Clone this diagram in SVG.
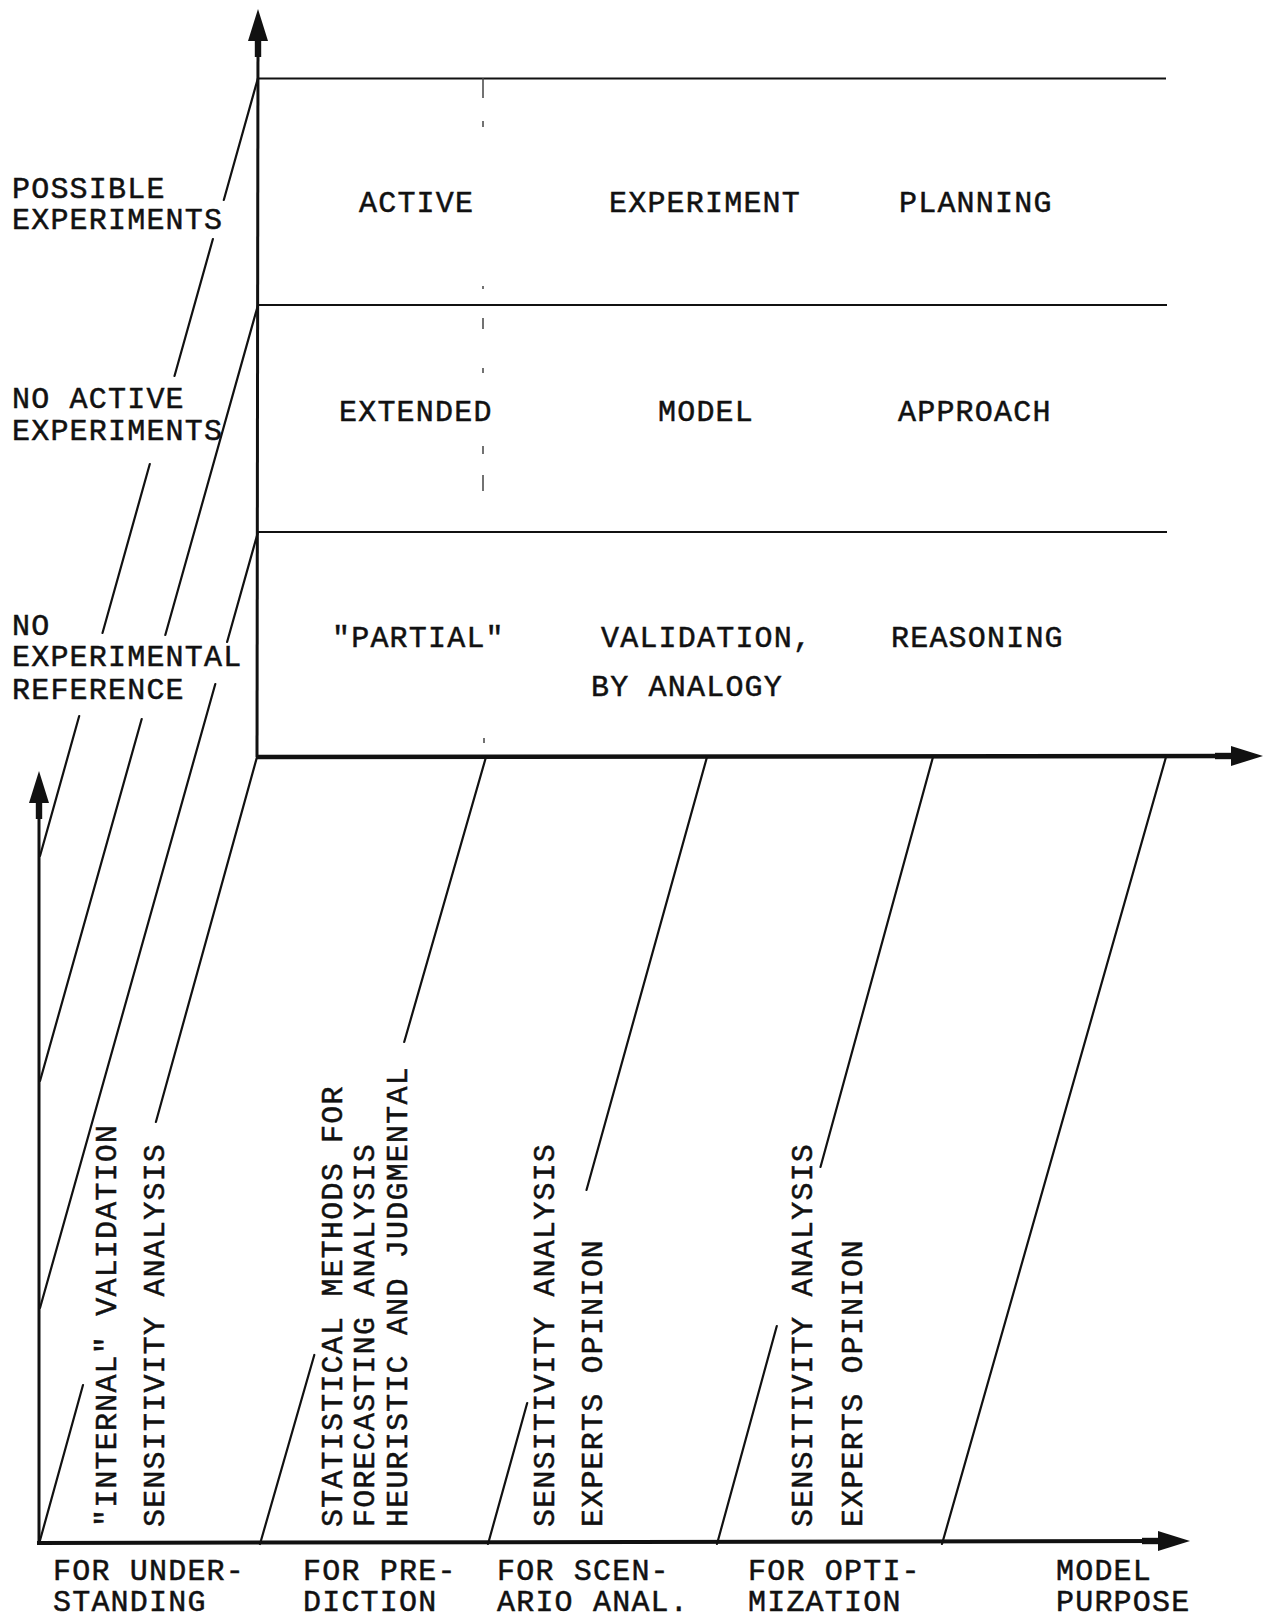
<svg xmlns="http://www.w3.org/2000/svg" width="1265" height="1620" viewBox="0 0 1265 1620">
<defs>
<style>
.t{font-family:"Liberation Mono","Courier New",monospace;font-size:30px;letter-spacing:1.2px;fill:#111;stroke:#111;stroke-width:0.5px;}
.ln{stroke:#111;stroke-width:2.2;fill:none;stroke-linecap:round;}
.ax{stroke:#111;fill:none;}
.thin{stroke:#111;stroke-width:2;fill:none;}
.dash{stroke:#444;stroke-width:1.5;fill:none;}
</style>
<g id="ah"><path d="M0,0 L-32,-10 L-32,10 Z"/><rect x="-48" y="-3.2" width="18" height="6.4"/></g>
</defs>
<rect width="1265" height="1620" fill="#fff"/>

<g id="axes" fill="#111">
<line class="ax" stroke-width="3" x1="257" y1="757" x2="258" y2="40"/>
<use href="#ah" transform="translate(258,9) rotate(-90)"/>
<line class="ax" stroke-width="3" x1="39" y1="1544" x2="39" y2="800"/>
<use href="#ah" transform="translate(39,771) rotate(-90)"/>
<line class="ax" stroke-width="4.5" x1="256" y1="757" x2="1235" y2="756"/>
<use href="#ah" transform="translate(1263,756)"/>
<line class="ax" stroke-width="4" x1="37" y1="1543" x2="1165" y2="1541"/>
<use href="#ah" transform="translate(1190,1541)"/>
</g>

<g id="grid">
<line class="thin" x1="258" y1="78.5" x2="1166" y2="78.5"/>
<line class="thin" x1="258" y1="305" x2="1167" y2="305"/>
<line class="thin" x1="258" y1="532" x2="1167" y2="532"/>
<path class="dash" d="M483,78 L483,98 M483,121 L483,127 M483,286 L483,289 M483,318 L483,329 M483,368 L483,373 M483,446 L483,454 M483,475 L483,491 M484,738 L484,743"/>
</g>

<g id="connectors" class="ln">
<path id="lineA" d="M40,856 L79.2,716 M102.5,633 L149.8,464 M174.5,376 L212.9,239 M223.8,200 L258,78"/>
<path id="lineB" d="M40,1081 L141.7,719 M165.3,635 L258,305"/>
<path id="lineC" d="M40,1308 L215.3,684 M227.1,642 L258,532"/>
<path id="lineD" d="M39,1544 L83,1385 M155.9,1122 L257,757"/>
<path id="lineL1" d="M260,1544 L314.3,1355 M404.2,1042 L486,757"/>
<path id="lineL2" d="M488,1544 L527.2,1403 M586.5,1190 L707,757"/>
<path id="lineL3" d="M717,1544 L776.8,1326 M820.5,1167 L933,757"/>
<path id="lineL4" d="M942,1544 L1166,757"/>
</g>

<g id="row-labels" class="t">
<g id="lbl-possible"><text x="12" y="198">POSSIBLE</text><text x="12" y="229">EXPERIMENTS</text></g>
<g id="lbl-noactive"><text x="12" y="408">NO ACTIVE</text><text x="12" y="440">EXPERIMENTS</text></g>
<g id="lbl-noexp"><text x="12" y="635">NO</text><text x="12" y="666">EXPERIMENTAL</text><text x="12" y="699">REFERENCE</text></g>
</g>

<g id="cells" class="t">
<g id="cell-row1"><text x="359" y="212">ACTIVE</text><text x="609" y="212">EXPERIMENT</text><text x="899" y="212">PLANNING</text></g>
<g id="cell-row2"><text x="339" y="421">EXTENDED</text><text x="658" y="421">MODEL</text><text x="898" y="421">APPROACH</text></g>
<g id="cell-row3"><text x="332" y="647">"PARTIAL"</text><text x="601" y="647">VALIDATION,</text><text x="891" y="647">REASONING</text><text x="591" y="696">BY ANALOGY</text></g>
</g>

<g id="methods" class="t">
<g id="m-understanding">
<text transform="translate(116,1527) rotate(-90)">"INTERNAL" VALIDATION</text>
<text transform="translate(164,1527) rotate(-90)">SENSITIVITY ANALYSIS</text>
</g>
<g id="m-prediction">
<text transform="translate(342,1527) rotate(-90)">STATISTICAL METHODS FOR</text>
<text transform="translate(374,1527) rotate(-90)">FORECASTING ANALYSIS</text>
<text transform="translate(407,1527) rotate(-90)">HEURISTIC AND JUDGMENTAL</text>
</g>
<g id="m-scenario">
<text transform="translate(554,1527) rotate(-90)">SENSITIVITY ANALYSIS</text>
<text transform="translate(602,1527) rotate(-90)">EXPERTS OPINION</text>
</g>
<g id="m-optimization">
<text transform="translate(812,1527) rotate(-90)">SENSITIVITY ANALYSIS</text>
<text transform="translate(862,1527) rotate(-90)">EXPERTS OPINION</text>
</g>
</g>

<g id="purposes" class="t">
<g id="p-understanding"><text x="53" y="1580">FOR UNDER-</text><text x="53" y="1611">STANDING</text></g>
<g id="p-prediction"><text x="303" y="1580">FOR PRE-</text><text x="303" y="1611">DICTION</text></g>
<g id="p-scenario"><text x="497" y="1580">FOR SCEN-</text><text x="497" y="1611">ARIO ANAL.</text></g>
<g id="p-optimization"><text x="748" y="1580">FOR OPTI-</text><text x="748" y="1611">MIZATION</text></g>
<g id="p-model"><text x="1056" y="1580">MODEL</text><text x="1056" y="1611">PURPOSE</text></g>
</g>
</svg>
